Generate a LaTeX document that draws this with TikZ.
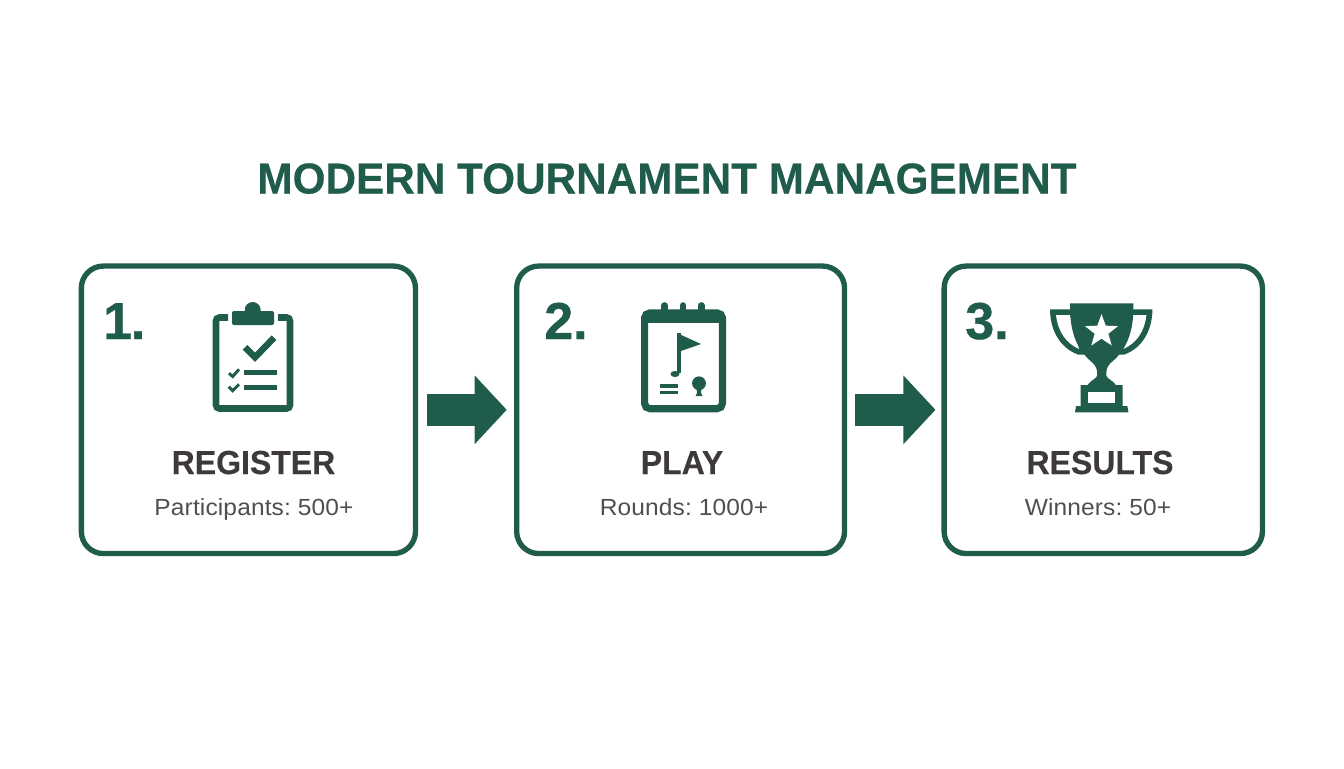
\documentclass[tikz,border=0pt]{standalone}
\usepackage{fontspec}
\setmainfont{Liberation Sans}
\newfontfamily\titlefont[FakeStretch=0.976, BoldFeatures={FakeBold=0.25, FakeStretch=0.976}]{Liberation Sans}
\newfontfamily\headfont[FakeStretch=0.96, BoldFeatures={FakeBold=0.2, FakeStretch=0.96}]{Liberation Sans}
\newfontfamily\subfont[FakeStretch=1.05, LetterSpace=0.6]{Liberation Sans}
\newfontfamily\numfont[BoldFeatures={FakeBold=0.7}]{Liberation Sans}
\usepackage{xcolor}
\usepackage{tikz}
\usetikzlibrary{shapes.geometric, arrows.meta}
\usetikzlibrary{positioning}
\definecolor{fairway}{HTML}{205C4B}
\definecolor{inkgrey}{HTML}{3E3A3A}
\tikzstyle{card} = [rectangle, rounded corners=16.5pt, minimum height=215.6pt, draw=fairway, line width=4pt, fill=white, inner sep=0pt]
\tikzstyle{heading} = [font=\headfont\bfseries\fontsize{25pt}{25pt}\selectfont, text=inkgrey, anchor=base]
\tikzstyle{subtext} = [font=\subfont\frenchspacing\fontsize{17.5pt}{17.5pt}\selectfont, text=inkgrey!90, anchor=base]
\tikzstyle{stepnum} = [font=\numfont\bfseries\fontsize{39pt}{39pt}\selectfont, text=fairway, anchor=base west, inner sep=0pt]
\tikzstyle{arrow} = [line width=23.7pt, fairway, -{Triangle[length=24pt, width=50pt]}]
\tikzstyle{iconline} = [draw=fairway, line width=4.8pt, line cap=butt]
\tikzstyle{icontick} = [draw=fairway, line width=2.2pt, line join=miter]

\begin{document}
\begin{tikzpicture}[x=0.75pt, y=-0.75pt]
\useasboundingbox (0,0) rectangle (1344,768);
\fill [white] (0,0) rectangle (1344,768);
\node (title) [font=\titlefont\bfseries\fontsize{32.5pt}{32.5pt}\selectfont, text=fairway, anchor=base] at (667,193.5) {MODERN TOURNAMENT MANAGEMENT};

\node (card1) [card, minimum width=250.6pt] at (248.4,409.8) {};
\node (card2) [card, minimum width=245.9pt, right=71.9pt of card1] {};
\node (card3) [card, minimum width=238.7pt, right=70.7pt of card2] {};

\node (num1) [stepnum] at (103,339) {1\kern-1pt.};
\node (num2) [stepnum] at (544,339) {2.};
\node (num3) [stepnum] at (965,339) {3.};

\node (head1) [heading] at (253.5,474) {REGISTER};
\node (head2) [heading] at (682,474) {PLAY};
\node (head3) [heading] at (1100,474) {RESULTS};
\node (sub1) [subtext] at (254,515) {Participants: 500+};
\node (sub2) [subtext] at (684,515) {Rounds: 1000+};
\node (sub3) [subtext] at (1098,515) {Winners: 50+};

\draw [arrow, shorten <=6.7pt, shorten >=5.45pt] (card1) -- (card2);
\draw [arrow, shorten <=6.2pt, shorten >=4.5pt] (card2) -- (card3);

% clipboard
\draw [fairway, line width=4.9pt, rounded corners=2.5pt] (228,317.5) -- (216,317.5) -- (216,408.5) -- (290,408.5) -- (290,317.5) -- (278,317.5);
\fill [fairway, rounded corners=1.5pt] (232,311) rectangle (274,325);
\fill [fairway] (252.7,310) circle [radius=6pt];
\draw [fairway, line width=4.9pt] (245,347.3) -- (255,357.3) -- (274,337.7);
\draw [icontick] (229,373.3) -- (232.7,376.5) -- (239,369.3);
\draw [icontick] (228.7,386.7) -- (232.7,390.7) -- (239,384.3);
\draw [iconline, line width=4pt] (244.3,372.3) -- (276.7,372.3);
\draw [iconline, line width=4pt] (244.3,387.7) -- (276.7,387.7);

% calendar card
\draw [fairway, line width=5.4pt, rounded corners=4pt] (644.6,312.9) rectangle (722.4,408.7);
\fill [fairway] (641,316) rectangle (726,323.3);
\foreach \ringx in {664.7,683,701.3}
  \draw [fairway, line width=5pt, line cap=round] (\ringx,305.5) -- (\ringx,312);
\draw [fairway, line width=2.4pt] (679,333.3) -- (679,373);
\fill [fairway] (679,334) -- (701,344) -- (679,351.7) -- cycle;
\fill [fairway] (675,374) ellipse [x radius=3.4pt, y radius=2.3pt];
\draw [iconline, line width=2.4pt] (660,386) -- (677.7,386);
\draw [iconline, line width=2.4pt] (660,392.3) -- (677.7,392.3);
\fill [fairway] (699,383.3) circle [radius=5.2pt];
\fill [fairway] (696.5,388) -- (701.5,388) -- (701,393) -- (702.5,396) -- (695.5,396) -- (697,393) -- cycle;

% trophy
\fill [fairway] (1050,309.3) -- (1152.4,309.3) .. controls (1152.4,330) and (1142.4,348) .. (1124.4,354.5) -- (1078,354.5) .. controls (1060,348) and (1050,330) .. (1050,309.3) -- cycle;
\fill [white] (1056,315) -- (1070,315) -- (1079,349) .. controls (1066,343) and (1058,332) .. (1056,315) -- cycle;
\fill [white] (1146.4,315) -- (1132.4,315) -- (1123.4,349) .. controls (1136.4,343) and (1144.4,332) .. (1146.4,315) -- cycle;
\fill [fairway] (1070,303.3) -- (1133.4,303.3) -- (1132.9,318) .. controls (1131.4,335) and (1125.4,350) .. (1113.4,360.5) .. controls (1108.4,364.5) and (1106.4,368) .. (1106.4,372) -- (1106.4,376) .. controls (1107.4,379) and (1112.4,380) .. (1115.9,385) -- (1122.7,385) -- (1122.7,406) -- (1127.4,406) -- (1128.4,412.3) -- (1075,412.3) -- (1076,406) -- (1080.7,406) -- (1080.7,385) -- (1087.5,385) .. controls (1091,380) and (1096,379) .. (1097,376) -- (1097,372) .. controls (1097,368) and (1095,364.5) .. (1090,360.5) .. controls (1078,350) and (1072,335) .. (1070.5,318) -- cycle;
\fill [white] (1088.3,391.7) rectangle (1115,402.7);
\node (star) [star, star points=5, star point ratio=2.4, fill=white, inner sep=0pt, minimum size=26pt] at (1101.5,331.5) {};
\end{tikzpicture}
\end{document}
